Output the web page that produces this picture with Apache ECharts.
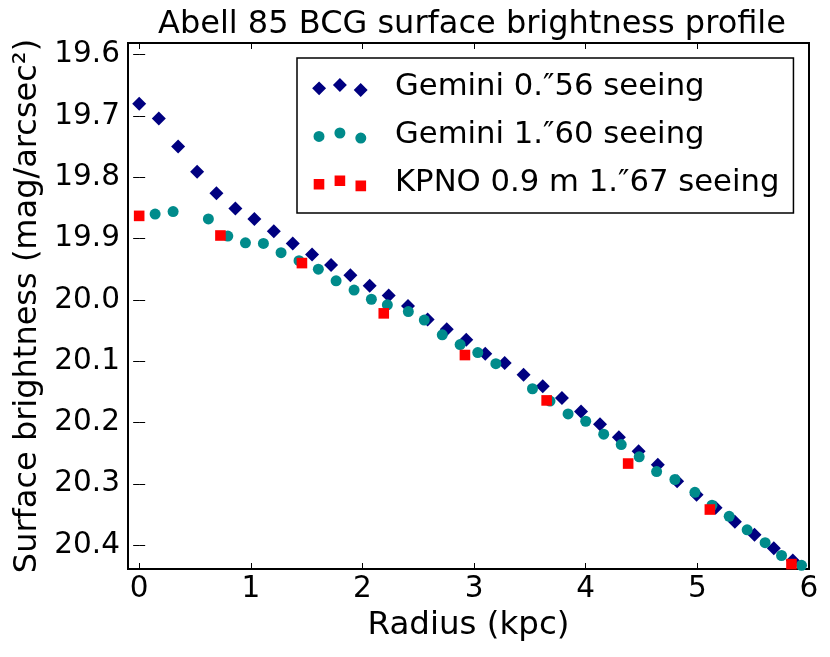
<!DOCTYPE html>
<html>
<head>
<meta charset="utf-8">
<script src="https://cdn.jsdelivr.net/npm/echarts@6/dist/echarts.min.js"></script>
<style>
html,body{margin:0;padding:0;background:#fff;}
#main{width:830px;height:657px;}
</style>
</head>
<body>
<div id="main"></div>
<script>
// Gemini 0."56 seeing (navy diamonds)
var navyX = [0, 0.176, 0.349, 0.519, 0.692, 0.862, 1.032, 1.206, 1.376, 1.549, 1.719, 1.892, 2.065, 2.235, 2.408,
    2.584, 2.755, 2.930, 3.100, 3.274, 3.443, 3.615, 3.787, 3.958, 4.128, 4.297, 4.474, 4.646, 4.819, 4.993,
    5.163, 5.336, 5.512, 5.685, 5.855];
var navyY = [19.680, 19.704, 19.750, 19.791, 19.826, 19.851, 19.868, 19.888, 19.908, 19.926, 19.943, 19.960, 19.977, 19.993, 20.010,
    20.032, 20.048, 20.065, 20.088, 20.103, 20.122, 20.141, 20.160, 20.182, 20.203, 20.224, 20.247, 20.269, 20.296, 20.318,
    20.339, 20.362, 20.383, 20.405, 20.425];
// Gemini 1."60 seeing (teal circles)
var tealX = [0.143, 0.304, 0.620, 0.794, 0.952, 1.113, 1.271, 1.432, 1.605, 1.764, 1.925, 2.080, 2.223, 2.411, 2.554,
    2.715, 2.875, 3.033, 3.195, 3.523, 3.680, 3.842, 4.000, 4.161, 4.318, 4.479, 4.635, 4.799, 4.978, 5.131,
    5.285, 5.446, 5.607, 5.754, 5.933];
var tealY = [19.860, 19.856, 19.868, 19.896, 19.907, 19.908, 19.923, 19.936, 19.950, 19.969, 19.984, 19.999, 20.008, 20.019, 20.033,
    20.057, 20.073, 20.086, 20.104, 20.145, 20.165, 20.186, 20.198, 20.219, 20.236, 20.256, 20.280, 20.293, 20.314, 20.335,
    20.353, 20.375, 20.396, 20.417, 20.433];
// KPNO 0.9 m 1."67 seeing (red squares)
var redX = [0, 0.728, 1.458, 2.191, 2.918, 3.650, 4.380, 5.112, 5.843];
var redY = [19.863, 19.895, 19.940, 20.022, 20.090, 20.164, 20.267, 20.342, 20.431];

var seriesNames = ['Gemini 0.\u203356 seeing', 'Gemini 1.\u203360 seeing', 'KPNO 0.9 m 1.\u203367 seeing'];
var xTicks = [0, 1, 2, 3, 4, 5, 6];
var yTicks = [19.6, 19.7, 19.8, 19.9, 20.0, 20.1, 20.2, 20.3, 20.4];

function pairs(xs, ys) {
    var out = [];
    for (var i = 0; i < xs.length; i++) out.push([xs[i], ys[i]]);
    return out;
}

// legend icons: three markers like matplotlib's scatterpoints
var iconDiamond = 'path://M0 0L0.01 0Z M56 19L55.99 19Z M7 3.4L14 10.4L7 17.4L0 10.4Z M27.9 0L34.9 7L27.9 14L20.9 7Z M48.8 5.1L55.8 12.1L48.8 19.1L41.8 12.1Z';
var iconCircle = 'path://M0 0L0.01 0Z M56 19L55.99 19Z M1.5 10.4A5.5 5.5 0 1 0 12.5 10.4A5.5 5.5 0 1 0 1.5 10.4Z M22.4 7A5.5 5.5 0 1 0 33.4 7A5.5 5.5 0 1 0 22.4 7Z M43.3 12.1A5.5 5.5 0 1 0 54.3 12.1A5.5 5.5 0 1 0 43.3 12.1Z';
var iconSquare = 'path://M0 0L0.01 0Z M56 19L55.99 19Z M1.7 4.9H12.3V15.5H1.7Z M22.6 1.5H33.2V12.1H22.6Z M43.5 6.6H54.1V17.2H43.5Z';

var font = 'DejaVu Sans';
var tickStyle = {show: true, inside: true, length: 6, lineStyle: {color: '#000', width: 1}};

var chart = echarts.init(document.getElementById('main'));
chart.setOption({
    animation: false,
    backgroundColor: '#fff',
    title: {
        text: 'Abell 85 BCG surface brightness profile',
        left: 153, top: 4,
        textStyle: {fontFamily: font, fontSize: 32, fontWeight: 'normal', color: '#000'}
    },
    grid: {left: 128, right: 21, top: 43, bottom: 88, show: true, borderColor: '#000', borderWidth: 2},
    legend: {
        orient: 'vertical', left: 297, top: 58,
        padding: [14, 14, 14, 15],
        itemWidth: 56, itemHeight: 19, itemGap: 17,
        symbolKeepAspect: true,
        borderColor: '#000', borderWidth: 1.5,
        textStyle: {fontFamily: font, fontSize: 30.7, color: '#000', lineHeight: 31, padding: [0, 0, 0, 22]},
        data: [
            {name: seriesNames[0], icon: iconDiamond},
            {name: seriesNames[1], icon: iconCircle},
            {name: seriesNames[2], icon: iconSquare}
        ]
    },
    xAxis: [{
        type: 'value', min: -0.1, max: 6,
        name: 'Radius (kpc)', nameLocation: 'middle', nameGap: 40,
        nameTextStyle: {fontFamily: font, fontSize: 32.5, color: '#000'},
        axisLine: {show: false}, splitLine: {show: false},
        axisTick: Object.assign({customValues: xTicks}, tickStyle),
        axisLabel: {customValues: xTicks, margin: 5, fontFamily: font, fontSize: 29.5, color: '#000'}
    }, {
        type: 'value', min: -0.1, max: 6, position: 'top',
        axisLine: {show: false}, splitLine: {show: false},
        axisTick: Object.assign({customValues: xTicks}, tickStyle),
        axisLabel: {show: false}
    }],
    yAxis: [{
        type: 'value', min: 19.581, max: 20.439, inverse: true,
        name: 'Surface brightness (mag/arcsec\u00b2)', nameLocation: 'middle', nameGap: 84,
        nameTextStyle: {fontFamily: font, fontSize: 32, color: '#000'},
        axisLine: {show: false}, splitLine: {show: false},
        axisTick: Object.assign({customValues: yTicks}, tickStyle),
        axisLabel: {customValues: yTicks, margin: 8, fontFamily: font, fontSize: 29.5, color: '#000',
            formatter: function (v) { return v.toFixed(1); }}
    }, {
        type: 'value', min: 19.581, max: 20.439, inverse: true, position: 'right',
        axisLine: {show: false}, splitLine: {show: false},
        axisTick: Object.assign({customValues: yTicks}, tickStyle),
        axisLabel: {show: false}
    }],
    series: [
        {name: seriesNames[0], type: 'scatter', symbol: 'diamond', symbolSize: 14,
            itemStyle: {color: '#000080', opacity: 1}, data: pairs(navyX, navyY)},
        {name: seriesNames[1], type: 'scatter', symbol: 'circle', symbolSize: 11,
            itemStyle: {color: '#008b8b', opacity: 1}, data: pairs(tealX, tealY)},
        {name: seriesNames[2], type: 'scatter', symbol: 'rect', symbolSize: 10.6,
            itemStyle: {color: '#ff0000', opacity: 1}, data: pairs(redX, redY)}
    ]
});
</script>
</body>
</html>
